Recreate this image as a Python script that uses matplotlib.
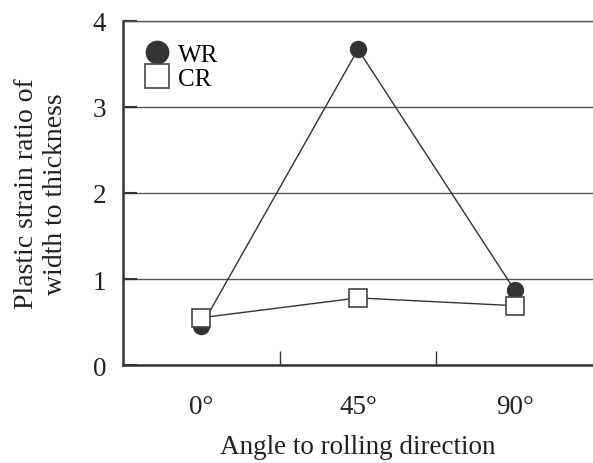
import numpy as np
import matplotlib
matplotlib.use("Agg")
from matplotlib import pyplot as plt

# data
angles = ["0°", "45°", "90°"]
wr = [0.45, 3.67, 0.87]
cr = [0.55, 0.78, 0.69]

plt.rcParams['font.family'] = ['Liberation Serif', 'DejaVu Serif']

fig = plt.figure(figsize=(5.93, 4.64), dpi=100)
ax = fig.add_axes([123 / 593, 1 - 366 / 464, (593 - 123) / 593, (366 - 22) / 464])

x = np.arange(len(angles))
dark = "#333333"
fs = 19.5

# WR line + circles (below), CR line + squares (on top)
ax.plot(x, wr, color=dark, lw=1.0, marker="o", ms=11.5, mfc=dark, mec=dark,
        label="WR", zorder=3)
ax.plot(x, cr, color=dark, lw=1.0, marker="s", ms=12.5, mfc="white", mec="#444444",
        mew=1.2, label="CR", zorder=4)

ax.set_xlim(-0.5, 2.5)
ax.set_ylim(0, 4)
ax.set_yticks([0, 1, 2, 3, 4])
ax.yaxis.grid(True, color="#555555", lw=1.0)
ax.set_axisbelow(True)

# category labels, tick marks between categories
ax.set_xticks(x)
ax.set_xticklabels(angles, fontsize=fs)
ax.tick_params(axis="x", length=0, pad=21, labelcolor="#222222")
ax.set_xticks([0.5, 1.5], minor=True)
ax.tick_params(axis="x", which="minor", direction="in", length=10, width=1.0, color=dark)
ax.tick_params(axis="y", direction="in", length=10, width=1.5, color=dark,
               labelsize=fs, pad=12, labelcolor="#222222")

ax.spines["right"].set_visible(False)
ax.spines["top"].set_color("#555555")
ax.spines["top"].set_linewidth(1.0)
ax.spines["left"].set_color(dark)
ax.spines["left"].set_linewidth(1.8)
ax.spines["bottom"].set_color(dark)
ax.spines["bottom"].set_linewidth(1.8)

ax.set_xlabel("Angle to rolling direction", fontsize=fs, labelpad=11, color="#222222")
ax.set_ylabel("Plastic strain ratio of\nwidth to thickness", fontsize=20, labelpad=18,
              color="#222222", linespacing=1.22)

ax.legend(loc="upper left", frameon=False, fontsize=18, handlelength=1.0,
          handletextpad=0.35, labelspacing=0.05, borderaxespad=0, borderpad=0,
          markerscale=1.4, bbox_to_anchor=(0.046, 0.935))
leg = ax.get_legend()
for h in leg.get_lines():
    h.set_linestyle("none")

plt.savefig("out.png", dpi=100)
